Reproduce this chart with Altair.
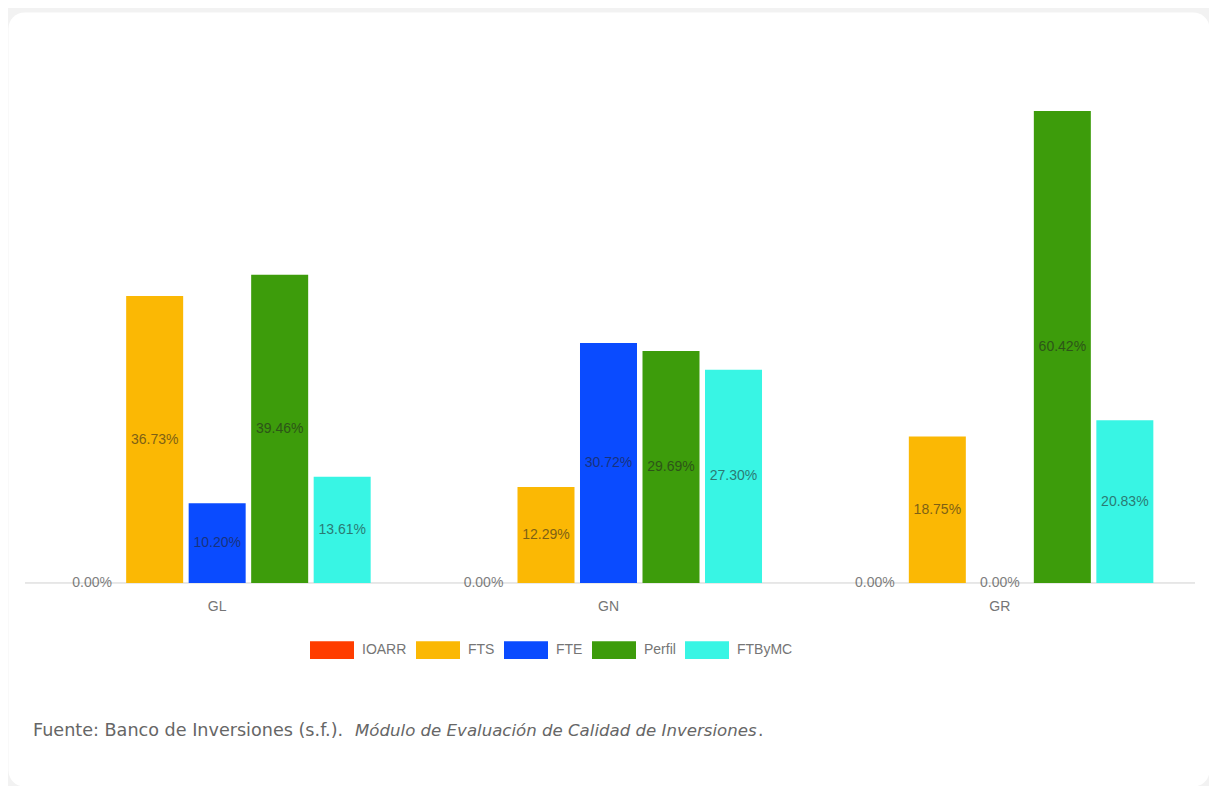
import altair as alt
import pandas as pd

# ---- data ----
groups = ["GL", "GN", "GR"]
series = ["IOARR", "FTS", "FTE", "Perfil", "FTByMC"]
colors = ["#ff3d00", "#fbb804", "#0a4bff", "#3d9c0b", "#38f5e4"]
values_GL = [0.00, 36.73, 10.20, 39.46, 13.61]
values_GN = [0.00, 12.29, 30.72, 29.69, 27.30]
values_GR = [0.00, 18.75, 0.00, 60.42, 20.83]

caption_normal = "Fuente: Banco de Inversiones (s.f.)."
caption_italic = "Módulo de Evaluación de Calidad de Inversiones"
caption_end = "."

rows = []
for g, vals in zip(groups, [values_GL, values_GN, values_GR]):
    for s, v in zip(series, vals):
        rows.append({"grupo": g, "serie": s, "valor": v, "cero": 0.0})
df = pd.DataFrame(rows)
df_groups = pd.DataFrame({"grupo": groups, "cero": [0.0] * len(groups)})

W, H = 1201, 774

x_enc = alt.X("grupo:N", sort=groups, axis=None,
              scale=alt.Scale(domain=groups, paddingInner=0, paddingOuter=0.0345))
xo_enc = alt.XOffset("serie:N", sort=series,
                     scale=alt.Scale(domain=series, paddingInner=0.088, paddingOuter=0.6745))
y_scale = alt.Scale(domain=[-25.99, 73.09], nice=False, zero=False)

legend = alt.Legend(
    orient="none", legendX=302, legendY=616, direction="horizontal", title=None,
    symbolType="M-1,-0.4H1V0.4H-1Z", symbolSize=1936, symbolStrokeWidth=0,
    symbolOpacity=1, labelFont="Liberation Sans", labelFontSize=14,
    labelColor="#757575", labelOffset=8, columnPadding=9, padding=0,
)
color_enc = alt.Color("serie:N", sort=series,
                      scale=alt.Scale(domain=series, range=colors), legend=legend)

base = alt.Chart(df)

baseline = alt.Chart(df_groups.head(1)).mark_rule(color="#d0d0d0", strokeWidth=1).encode(
    x=alt.value(17), x2=alt.value(1187),
    y=alt.Y("cero:Q", scale=y_scale, axis=None),
)

bars = base.mark_bar(opacity=1).encode(
    x=x_enc, xOffset=xo_enc,
    y=alt.Y("valor:Q", scale=y_scale, axis=None), y2=alt.Y2("cero:Q"),
    color=color_enc,
)

labels = base.transform_calculate(
    mid="datum.valor / 2",
    etiqueta="format(datum.valor, '.2f') + '%'",
).mark_text(font="Liberation Sans", fontSize=14, color="#222222", opacity=0.58,
            align="center", baseline="middle").encode(
    x=x_enc, xOffset=xo_enc,
    y=alt.Y("mid:Q", scale=y_scale, axis=None),
    text="etiqueta:N",
)

group_labels = alt.Chart(df_groups).mark_text(
    font="Liberation Sans", fontSize=14, color="#757575", align="center", baseline="middle"
).encode(x=x_enc, y=alt.value(595), text="grupo:N")

cap1 = alt.Chart(pd.DataFrame({"t": [caption_normal]})).mark_text(
    font="DejaVu Sans", fontSize=17.6, color="#666666", align="left", baseline="middle"
).encode(x=alt.value(25), y=alt.value(719), text="t:N")

cap2 = alt.Chart(pd.DataFrame({"t": [caption_italic]})).mark_text(
    font="DejaVu Sans", fontSize=16.6, fontStyle="italic", color="#666666",
    align="left", baseline="middle"
).encode(x=alt.value(347), y=alt.value(719), text="t:N")

cap3 = alt.Chart(pd.DataFrame({"t": [caption_end]})).mark_text(
    font="DejaVu Sans", fontSize=17, color="#666666", align="left", baseline="middle"
).encode(x=alt.value(750), y=alt.value(719), text="t:N")

chart = alt.layer(baseline, bars, labels, group_labels, cap1, cap2, cap3).properties(
    width=W, height=H,
    autosize=alt.AutoSizeParams(type="none"),
    padding={"left": 0, "top": 4, "right": 0, "bottom": 0},
    background="#f2f2f2",
).configure_view(fill="white", cornerRadius=16, stroke="transparent")

chart.save("out.html", embed_options={"renderer": "svg", "actions": False})
